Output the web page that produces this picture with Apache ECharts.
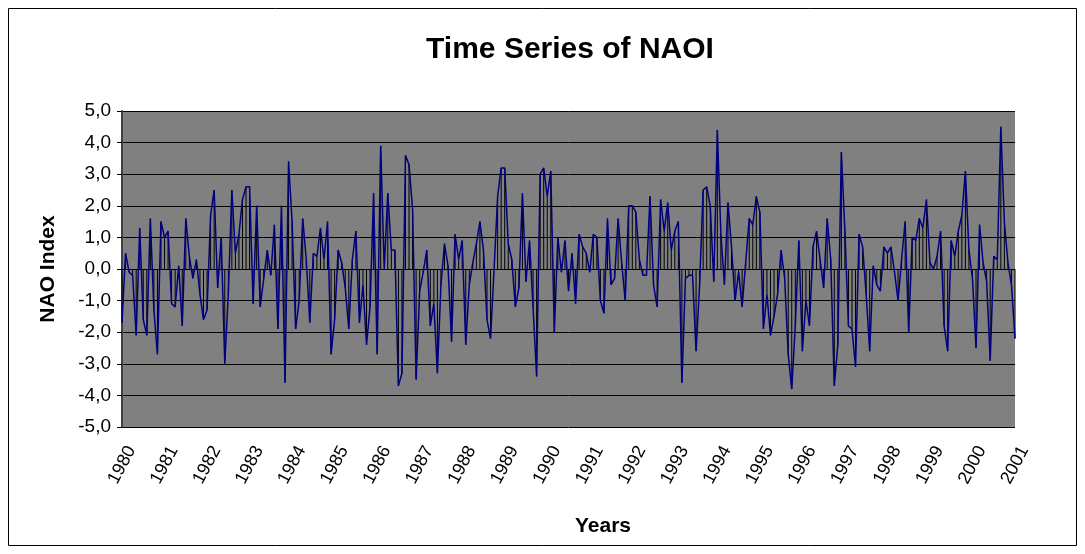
<!DOCTYPE html>
<html>
<head>
<meta charset="utf-8">
<title>Time Series of NAOI</title>
<script src="https://cdn.jsdelivr.net/npm/echarts/dist/echarts.min.js"></script>
<style>
  html, body { margin: 0; padding: 0; background: #fff; }
  #myChart { width: 1085px; height: 554px; }
</style>
</head>
<body>
<div id="myChart"></div>
<script>
// monthly NAO index, Jan 1980 .. Jan 2001
const startYear = 1980
const naoIndex = [
  -1.7, 0.5, -0.1, -0.2, -2.1, 1.3, -1.6, -2.1, 1.6, -1.3, -2.7, 1.5, 1.0, 1.2, -1.1, -1.2, 0.1, -1.8, 1.6, 0.4, -0.3, 0.3,
  -0.8, -1.6, -1.3, 1.7, 2.5, -0.6, 1.0, -3.0, -0.8, 2.5, 0.5, 1.1, 2.2, 2.6, 2.6, -1.1, 2.0, -1.2, -0.3, 0.6, -0.2, 1.4, -1.9, 2.0,
  -3.6, 3.4, 1.5, -1.9, -1.0, 1.6, 0.3, -1.7, 0.5, 0.4, 1.3, 0.3, 1.5, -2.7, -1.6, 0.6, 0.2, -0.6, -1.9, 0.3, 1.2, -1.7,
  -0.5, -2.4, -1.2, 2.4, -2.7, 3.9, 0.0, 2.4, 0.6, 0.6, -3.7, -3.3, 3.6, 3.3, 1.9, -3.5, -0.7, -0.1, 0.6, -1.8, -1.1, -3.3, -0.5, 0.8,
  0.1, -2.3, 1.1, 0.3, 0.9, -2.4, -0.5, 0.2, 0.8, 1.5, 0.6, -1.6, -2.2, 0.0, 2.3, 3.2, 3.2, 0.8, 0.3, -1.2, -0.6, 2.4, -0.4, 0.9,
  -1.2, -3.4, 3.0, 3.2, 2.3, 3.1, -2.0, 1.0, -0.1, 0.9, -0.7, 0.5, -1.1, 1.1, 0.7, 0.5, -0.1, 1.1, 1.0, -1.0, -1.4, 1.6, -0.5, -0.3,
  1.6, 0.2, -1.0, 2.0, 2.0, 1.8, 0.3, -0.2, -0.2, 2.3, -0.5, -1.2, 2.2, 1.2, 2.1, 0.6, 1.2, 1.5, -3.6, -0.3, -0.2, -0.2, -2.6,
  -0.5, 2.5, 2.6, 2.0, -0.4, 4.4, 1.1, -0.5, 2.1, 0.7, -1.0, -0.1, -1.2, 0.2, 1.6, 1.4, 2.3, 1.8, -1.9, -0.8, -2.1, -1.5, -0.8, 0.6, -0.3,
  -2.7, -3.8, -1.8, 0.9, -2.6, -1.0, -1.8, 0.7, 1.2, 0.3, -0.6, 1.6, 0.3, -3.7, -2.4, 3.7, 1.2, -1.8, -1.9, -3.1, 1.1, 0.7, -0.8, -2.6,
  0.1, -0.5, -0.7, 0.7, 0.5, 0.7, -0.1, -1.0, 0.3, 1.5, -2.0, 1.0, 0.9, 1.6, 1.3, 2.2, 0.2, 0.0, 0.4, 1.2, -1.8, -2.6, 0.9, 0.4, 1.2,
  1.7, 3.1, 0.6, -0.3, -2.5, 1.4, 0.2, -0.4, -2.9, 0.4, 0.3, 4.5, 1.5, 0.2, -0.5, -2.2
]
// y axis range / step
const yMin = -5
const yMax = 5
const yStep = 1

// categories: one per month
const months = naoIndex.map((v, i) => {
  const y = startYear + Math.floor(i / 12)
  const m = (i % 12) + 1
  return y + '-' + (m < 10 ? '0' + m : m)
})

const myChart = echarts.init(document.getElementById('myChart'), null, { renderer: 'canvas' })
const font = 'Liberation Sans, Arial, sans-serif'

const option = {
  animation: false,
  backgroundColor: '#fff',
  textStyle: { fontFamily: font },
  title: [
    {
      text: 'Time Series of NAOI',
      left: 565,
      top: 30,
      textAlign: 'center',
      textStyle: { fontSize: 30, fontWeight: 'bold', color: '#000', fontFamily: font }
    },
    {
      text: 'Years',
      left: 598,
      top: 511,
      textAlign: 'center',
      textStyle: { fontSize: 21, fontWeight: 'bold', color: '#000', fontFamily: font }
    }
  ],
  graphic: [
    {
      type: 'rect',
      shape: { x: 8.5, y: 8.5, width: 1068, height: 537 },
      style: { fill: 'none', stroke: '#000', lineWidth: 1 },
      silent: true
    }
  ],
  grid: {
    left: 122,
    right: 70,
    top: 111,
    bottom: 127,
    show: true,
    backgroundColor: '#808080',
    borderWidth: 0
  },
  xAxis: {
    type: 'category',
    data: months,
    boundaryGap: false,
    axisLine: { show: false, onZero: false },
    axisTick: { show: false },
    splitLine: { show: false },
    axisLabel: {
      interval: 11,
      rotate: 62,
      margin: 38,
      align: 'center',
      verticalAlign: 'middle',
      fontSize: 18,
      color: '#000',
      fontFamily: font,
      formatter: (v) => v.slice(0, 4)
    }
  },
  yAxis: {
    type: 'value',
    min: yMin,
    max: yMax,
    interval: yStep,
    name: 'NAO Index',
    nameLocation: 'middle',
    nameRotate: 90,
    nameGap: 63,
    nameTextStyle: { fontSize: 21, fontWeight: 'bold', color: '#000', fontFamily: font },
    axisLine: { show: true, lineStyle: { color: '#404040', width: 2 } },
    axisTick: { show: true, inside: false, length: 5, lineStyle: { color: '#000' } },
    axisLabel: {
      fontSize: 19,
      color: '#000',
      margin: 11,
      fontFamily: font,
      formatter: (v) => v.toFixed(1).replace('.', ',')
    },
    splitLine: { show: true, lineStyle: { color: '#000', width: 1 } }
  },
  series: [
    {
      // black drop lines from 0 to each value
      type: 'bar',
      data: naoIndex,
      barWidth: 1,
      silent: true,
      itemStyle: { color: '#000' },
      z: 2
    },
    {
      type: 'line',
      data: naoIndex,
      showSymbol: false,
      silent: true,
      lineStyle: { color: '#000080', width: 1.5 },
      z: 3
    }
  ]
}
myChart.setOption(option)
</script>
</body>
</html>
